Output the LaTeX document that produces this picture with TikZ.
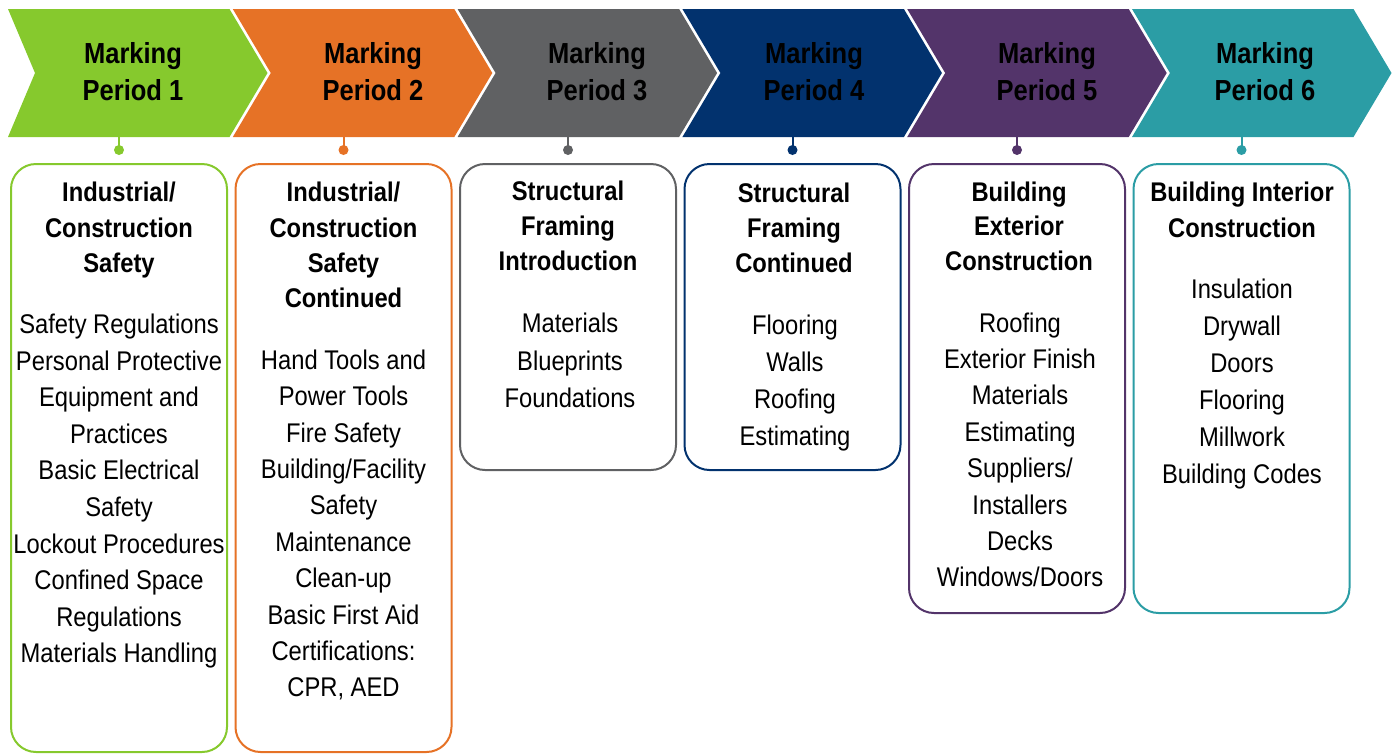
\documentclass[tikz,border=0pt]{standalone}
\usepackage{fontspec}
\setmainfont{Liberation Sans}[FakeStretch=0.88]
\definecolor{cA}{RGB}{134,201,45}
\definecolor{cB}{RGB}{230,114,38}
\definecolor{cC}{RGB}{96,97,99}
\definecolor{cD}{RGB}{2,50,110}
\definecolor{cE}{RGB}{83,52,106}
\definecolor{cF}{RGB}{43,157,165}
\tikzset{
  ttl/.style={font=\bfseries\fontsize{29}{35}\selectfont, inner sep=0pt, anchor=base},
  hd/.style={font=\bfseries\fontsize{27}{33}\selectfont, inner sep=0pt, anchor=base},
  bd/.style={font=\fontsize{27}{33}\selectfont, inner sep=0pt, anchor=base},
  chev/.style={fill=#1, draw=none},
  card/.style={draw=#1, line width=2pt, rounded corners=25pt, fill=white, rectangle, inner sep=0pt, minimum width=216pt, anchor=north},
  stem/.style={draw=#1, line width=2pt},
  knob/.style={fill=#1, draw=none, circle, inner sep=0pt, minimum size=10pt},
}
\newcommand\textlines[6]{%
  \foreach \t [count=\k] in {#6} {\node[#1] (#2\k) at (#3,{#4+(\k-1)*#5}) {\t};}}
\begin{document}
\begin{tikzpicture}[x=1pt,y=-1pt]
\useasboundingbox (0,0) rectangle (1395,753);
% chevrons
\fill[cA] (8,9) -- (229.5,9) -- (267.5,73) -- (229.5,137) -- (8,137) -- (35,73) -- cycle;
\foreach \i/\c in {1/cB,2/cC,3/cD,4/cE,5/cF}{
  \pgfmathsetmacro\xo{8+224.8*\i}
  \fill[\c] (\xo,9) -- ({\xo+221.5},9) -- ({\xo+259.5},73) -- ({\xo+221.5},137) -- (\xo,137) -- ({\xo+38},73) -- cycle;
}
% titles
\foreach \i/\x in {1/133,2/373,3/597,4/814,5/1047,6/1265}{
  \node[ttl] (tm\i) at (\x,63.3) {Marking};
  \node[ttl] (tp\i) at (\x,100) {Period \i};
}
% stems, knobs and cards
\foreach \i/\c/\h in {1/cA/588,2/cB/588,3/cC/306,4/cD/306,5/cE/449,6/cF/449}{
  \pgfmathsetmacro\cx{119+224.5*(\i-1)}
  \coordinate (cb\i) at (\cx,137);
  \node[knob=\c] (k\i) at (\cx,150) {};
  \draw[stem=\c] (cb\i) -- (k\i.center);
  \node[card=\c, minimum height=\h pt] (box\i) at (\cx,163) {};
}
% box texts
\textlines{hd}{ha}{119}{201.7}{35.5}{Industrial/,Construction,Safety}
\textlines{bd}{ba}{119}{333.5}{36.6}{Safety Regulations,Personal Protective,Equipment and,Practices,Basic Electrical,Safety,Lockout Procedures,Confined Space,Regulations,Materials Handling}
\textlines{hd}{hb}{343.5}{201.7}{35.3}{Industrial/,Construction,Safety,Continued}
\textlines{bd}{bb}{343.5}{369.3}{36.4}{Hand Tools and,Power Tools,Fire Safety,Building/Facility,Safety,Maintenance,Clean-up,Basic First Aid,Certifications:,{CPR, AED}}
\textlines{hd}{hc}{568}{200.7}{35}{Structural,Framing,Introduction}
\textlines{bd}{bc}{570}{332.7}{37.5}{Materials,Blueprints,Foundations}
\textlines{hd}{hd}{794}{202}{35.3}{Structural,Framing,Continued}
\textlines{bd}{bd}{795}{334.3}{37.1}{Flooring,Walls,Roofing,Estimating}
\textlines{hd}{he}{1019}{201}{34.5}{Building,Exterior,Construction}
\textlines{bd}{be}{1020}{332}{36.4}{Roofing,Exterior Finish,Materials,Estimating,Suppliers/,Installers,Decks,Windows/Doors}
\textlines{hd}{hf}{1242}{201.7}{35.6}{Building Interior,Construction}
\textlines{bd}{bf}{1242}{298.3}{37}{Insulation,Drywall,Doors,Flooring,Millwork,Building Codes}
\end{tikzpicture}
\end{document}
